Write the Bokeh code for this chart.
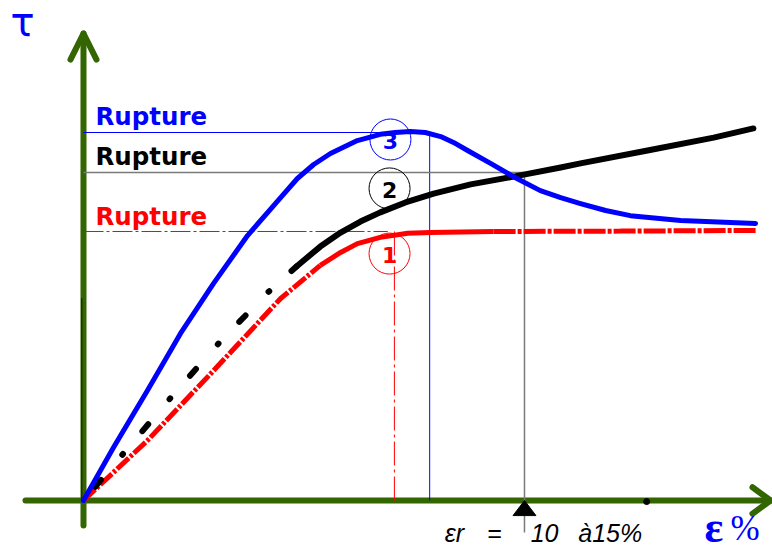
from bokeh.plotting import figure
from bokeh.models import Range1d
from bokeh.core.properties import value
from bokeh.embed import file_html
from bokeh.resources import INLINE

# ---------------- data (ε in %, τ in arbitrary stress units) ----------------
# curve 3 (blue): peak then softening
eps_blue = [0, 0.68, 1.45, 2.20, 2.95, 3.72, 4.47, 4.85, 5.22, 5.60, 6.21, 6.73, 7.07, 7.41,
            7.75, 8.10, 8.39, 8.71, 9.23, 9.75, 10.36, 10.82, 11.27, 11.84, 12.40, 13.54, 15.24]
tau_blue = [0, 1.44, 2.99, 4.54, 5.90, 7.20, 8.23, 8.75, 9.13, 9.43, 9.78, 9.95, 10.00, 10.03,
            10.00, 9.89, 9.73, 9.51, 9.16, 8.80, 8.42, 8.23, 8.07, 7.88, 7.74, 7.61, 7.53]

# curve 2 (black): dash-dot start then hardening
eps_black_dash = [0, 2.04, 3.08, 4.15, 4.83]
tau_black_dash = [0, 2.88, 4.29, 5.62, 6.36]
eps_black = [4.83, 5.37, 5.83, 6.28, 6.73, 7.30, 7.94, 8.78, 9.75, 10.82, 11.27, 12.79, 14.29, 15.19]
tau_black = [6.36, 6.90, 7.28, 7.58, 7.83, 8.10, 8.34, 8.59, 8.80, 9.05, 9.16, 9.51, 9.86, 10.11]

# curve 1 (red): plateau
eps_red_a = [0, 1.45, 2.95, 4.47, 5.37]
tau_red_a = [0, 1.63, 3.53, 5.49, 6.39]
eps_red_b = [5.37, 5.83, 6.21, 6.73, 7.35, 7.87, 9.30]
tau_red_b = [6.39, 6.74, 6.98, 7.15, 7.26, 7.28, 7.31]
eps_red_c = [9.30, 12.18, 15.24]
tau_red_c = [7.31, 7.32, 7.34]

# rupture levels and strains
tau_rupt = [10.00, 8.91, 7.31]          # blue, black, red
eps_rupt = [7.85, 10.0, 7.05]           # blue, black(εr), red
eps_r = 10.0
eps_dot = 12.77

labels_rupt = ["Rupture", "Rupture", "Rupture"]
curve_ids = ["3", "2", "1"]
curve_colors = ["#0000ff", "#000000", "#ff0000"]

# ---------------- figure ----------------
GREEN = "#336600"
p = figure(width=772, height=551,
           x_range=Range1d(-1.882, 15.624), y_range=Range1d(-1.386, 13.587),
           output_backend="svg", toolbar_location=None, min_border=0,
           x_axis_location=None, y_axis_location=None)
p.grid.visible = False
p.outline_line_color = None
p.background_fill_color = "white"
p.border_fill_color = "white"

# axes (green arrows)
p.line([-1.315, 15.58], [0, 0], line_color=GREEN, line_width=6, line_cap="round")
p.line([0, 0], [-0.68, 12.69], line_color=GREEN, line_width=6, line_cap="round")
p.multi_line([[-0.295, 0, 0.295], [15.17, 15.58, 15.17]],
             [[11.98, 12.69, 11.98], [0.36, 0, -0.36]],
             line_color=GREEN, line_width=6, line_cap="round", line_join="round")
p.line([-0.04, -0.04], [0, 5.50], line_color="#1e3300", line_width=1.5)

# reference lines
p.line([0, eps_rupt[0], eps_rupt[0]], [tau_rupt[0], tau_rupt[0], 0],
       line_color="#0000ff", line_width=1)
p.line([0, eps_rupt[1], eps_rupt[1]], [tau_rupt[1], tau_rupt[1], -0.87],
       line_color="#7a7a7a", line_width=1.5)
p.line([0, 6.9], [tau_rupt[2], tau_rupt[2]], line_color="#ff0000", line_width=1,
       line_dash="20 3 3 3")
p.line([eps_rupt[2], eps_rupt[2]], [tau_rupt[2], 0], line_color="#ff0000", line_width=1,
       line_dash="24 4 3 4")

# curves
p.line(eps_red_a, tau_red_a, line_color="#ff0000", line_width=5, line_dash="16 2 3 2")
p.line(eps_red_b, tau_red_b, line_color="#ff0000", line_width=5, line_join="round")
p.line(eps_red_c, tau_red_c, line_color="#ff0000", line_width=5, line_dash="22 2 4 2")
p.line(eps_black_dash, tau_black_dash, line_color="black", line_width=6,
       line_dash="9 33 1 30", line_dash_offset=55, line_cap="round")
p.line(eps_black, tau_black, line_color="black", line_width=6, line_cap="round",
       line_join="round")
p.line(eps_blue, tau_blue, line_color="#0000ff", line_width=5, line_cap="round",
       line_join="round")

# numbered circles
cx = [6.96, 6.94, 6.94]
cy = [9.81, 8.48, 6.71]
p.scatter(cx, cy, marker="circle", size=41, fill_color=None,
          line_color=curve_colors, line_width=1)
p.text(cx, [c - 0.05 for c in cy], text=curve_ids, text_color=curve_colors,
       text_font=value("DejaVu Sans"), text_font_style="bold", text_font_size="22px",
       text_align="center", text_baseline="middle")

# "Rupture" labels
p.text([0.27, 0.27, 0.27], [10.43, 9.35, 7.72], text=labels_rupt, text_color=curve_colors,
       text_font=value("DejaVu Sans"), text_font_style="bold", text_font_size="24.5px",
       text_align="left", text_baseline="alphabetic")

# εr marker and dot on axis
p.patch([eps_r - 0.26, eps_r + 0.26, eps_r], [-0.41, -0.41, 0.0], fill_color="black",
        line_color="black")
p.scatter([eps_dot], [-0.03], marker="circle", size=6, fill_color="black", line_color="black")

# axis titles
p.text([-1.655], [12.99], text=["τ"], text_color="#0000ff",
       text_font=value("DejaVu Sans"), text_font_size="40px",
       text_align="left", text_baseline="alphabetic")
p.text([14.08], [-0.74], text=["ε"], text_color="#0000ff",
       text_font=value("Liberation Serif"), text_font_style="bold", text_font_size="44px",
       text_align="left", text_baseline="alphabetic")
p.text([14.67], [-0.76], text=["%"], text_color="#0000ff",
       text_font=value("Liberation Serif"), text_font_size="35px",
       text_align="left", text_baseline="alphabetic")

# εr = 10 à 15 %
p.text([8.19, 9.15, 10.14, 11.22], [-0.87] * 4, text=["εr", "=", "10", "à15%"],
       text_color="black", text_font=value("Liberation Sans"), text_font_style="italic",
       text_font_size="25px", text_align="left", text_baseline="alphabetic")

open("out.html", "w").write(file_html(p, INLINE))
